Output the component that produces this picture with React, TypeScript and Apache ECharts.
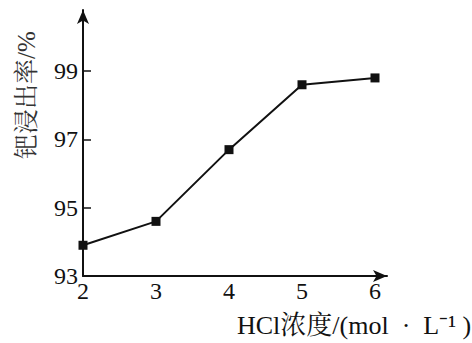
import React, { useEffect, useRef } from "react";
import * as echarts from "echarts";

const concentrations = [2, 3, 4, 5, 6];
const leachRate = [93.9, 94.6, 96.7, 98.6, 98.8];
const yTickValues = [93, 95, 97, 99];
const xTickValues = [2, 3, 4, 5, 6];
const yName = "钯浸出率/%";
const xName = "HCl浓度/(mol  ·  L⁻¹ )";

const FONT = '"Liberation Serif", "Noto Serif CJK SC", "Noto Sans CJK SC", serif';

export default function App() {
  const ref = useRef<HTMLDivElement>(null);
  useEffect(() => {
    if (!ref.current) return;
    const chart = echarts.init(ref.current, null, { renderer: "svg" });
    chart.setOption({
      animation: false,
      backgroundColor: "#ffffff",
      grid: { left: 83, top: 10, width: 304, height: 266, containLabel: false },
      xAxis: {
        type: "value",
        min: 2,
        max: 2 + 304 / 73,
        axisLine: {
          show: true,
          symbol: ["none", "arrow"],
          symbolSize: [9, 14],
          lineStyle: { color: "#111", width: 2 },
        },
        axisTick: { show: false },
        splitLine: { show: false },
        axisLabel: {
          customValues: xTickValues,
          color: "#111",
          fontFamily: FONT,
          fontSize: 24,
          margin: 3,
        },
      },
      yAxis: {
        type: "value",
        min: 93,
        max: 93 + 266 / 34.15,
        axisLine: {
          show: true,
          symbol: ["none", "arrow"],
          symbolSize: [9, 14],
          lineStyle: { color: "#111", width: 2 },
        },
        axisTick: {
          show: true,
          inside: true,
          length: 8,
          customValues: yTickValues.slice(1),
          lineStyle: { color: "#111", width: 1.5 },
        },
        splitLine: { show: false },
        axisLabel: {
          customValues: yTickValues,
          color: "#111",
          fontFamily: FONT,
          fontSize: 24,
          margin: 5,
        },
      },
      graphic: [
        {
          type: "text",
          x: 26,
          y: 95,
          rotation: Math.PI / 2,
          style: {
            text: yName,
            fill: "#333",
            font: `25px ${FONT}`,
            textAlign: "center",
            textVerticalAlign: "middle",
          },
        },
        {
          type: "text",
          x: 237,
          y: 325,
          style: {
            text: xName,
            fill: "#111",
            font: `26px ${FONT}`,
            textAlign: "left",
            textVerticalAlign: "middle",
          },
        },
      ],
      series: [
        {
          type: "line",
          data: concentrations.map((c, i) => [c, leachRate[i]]),
          symbol: "rect",
          symbolSize: 9,
          lineStyle: { color: "#111", width: 2 },
          itemStyle: { color: "#111" },
        },
      ],
    });
    return () => chart.dispose();
  }, []);
  return (
    <div
      ref={ref}
      style={{ position: "fixed", left: 0, top: 0, width: 472, height: 343 }}
    />
  );
}
